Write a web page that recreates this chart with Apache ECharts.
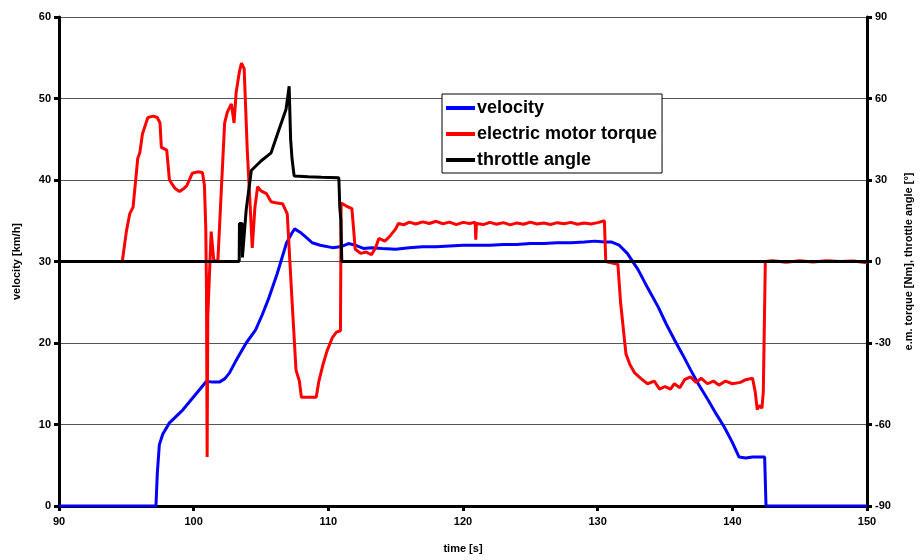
<!DOCTYPE html>
<html><head><meta charset="utf-8">
<script src="https://cdn.jsdelivr.net/npm/echarts@6/dist/echarts.min.js"></script>
<style>html,body{margin:0;padding:0;background:#fff}#c{width:922px;height:560px}</style>
</head><body><div id="c"></div>
<script>
var velT = [90, 97.2, 97.3, 97.45, 97.7, 98.2, 98.7, 99.2, 99.8, 100.4, 100.95, 101.4, 101.9, 102.3, 102.65, 103.2, 103.9, 104.6, 105.1, 105.6, 106.2, 106.9, 107.3, 107.5, 107.9, 108.4, 108.8, 109.4, 110.3, 110.9, 111.5, 112.0, 112.6, 113.2, 114, 115, 116, 117, 118, 119, 120, 121, 122, 123, 124, 125, 126, 127, 128, 129, 129.8, 130.5, 131, 131.6, 132.2, 133, 133.7, 134.5, 135.1, 135.7, 136.3, 136.9, 137.5, 138.2, 138.8, 139.4, 140, 140.5, 141, 141.5, 142, 142.4, 142.5, 150];
var velV = [0, 0, 4, 7.5, 8.8, 10.2, 11, 11.8, 13, 14.2, 15.3, 15.2, 15.2, 15.6, 16.3, 18, 20, 21.6, 23.5, 25.6, 28.5, 32.3, 33.5, 34.0, 33.6, 32.9, 32.3, 32.0, 31.7, 31.8, 32.2, 32.0, 31.6, 31.7, 31.6, 31.5, 31.7, 31.8, 31.8, 31.9, 32.0, 32.0, 32.0, 32.1, 32.1, 32.2, 32.2, 32.3, 32.3, 32.4, 32.5, 32.4, 32.4, 32.0, 31.0, 29.0, 26.8, 24.4, 22.3, 20.4, 18.6, 16.7, 14.9, 13.0, 11.3, 9.7, 7.8, 6.0, 5.9, 6.0, 6.0, 6.0, 0, 0];

var torT = [90, 94.7, 95.0, 95.25, 95.5, 95.85, 96.0, 96.2, 96.6, 97.0, 97.3, 97.5, 97.6, 98.0, 98.2, 98.6, 98.95, 99.3, 99.5, 99.9, 100.3, 100.65, 100.8, 100.9, 100.95, 101.0, 101.05, 101.3, 101.5, 101.8, 102.05, 102.3, 102.5, 102.8, 103.0, 103.15, 103.4, 103.55, 103.75, 103.98, 104.2, 104.35, 104.55, 104.75, 105.0, 105.4, 105.75, 106.2, 106.6, 106.95, 107.3, 107.6, 107.85, 108.0, 108.5, 109.1, 109.3, 109.6, 109.9, 110.3, 110.6, 110.9, 110.95, 111.3, 111.75, 112.0, 112.4, 112.8, 113.2, 113.5, 113.75, 114.2, 114.6, 115.0, 115.2, 115.6, 116.0, 116.5, 117, 117.5, 118, 118.5, 119, 119.5, 120, 120.5, 120.9, 120.95, 121.0, 121.5, 122, 122.5, 123, 123.5, 124, 124.5, 125, 125.5, 126, 126.5, 127, 127.5, 128, 128.5, 129, 129.5, 130, 130.5, 130.6, 131.0, 131.5, 131.7, 132.1, 132.4, 132.75, 133.2, 133.7, 134.2, 134.6, 135.0, 135.4, 135.7, 136.1, 136.45, 136.9, 137.3, 137.7, 138.15, 138.6, 139, 139.5, 140, 140.6, 141, 141.5, 141.7, 141.85, 142.0, 142.2, 142.3, 142.45, 143, 144, 145, 146, 147, 148, 149, 150];
var torV = [0, 0, 11, 17.5, 20, 38, 40, 47, 53, 53.5, 53, 51, 42, 41, 30, 27, 25.8, 27, 28, 32.5, 33, 32.8, 28, 12, -10, -72, -20, 11, 0, 0.5, 26, 51, 55, 58, 51, 62, 70, 73, 71, 41, 20, 5, 20, 27.5, 26, 25, 22, 21.5, 21.3, 17.5, -14, -40, -44, -50, -50, -50, -44, -38, -33, -28, -26, -25.5, 21.5, 20.5, 19.5, 4.5, 3, 3.5, 2.5, 5, 8.5, 7.5, 9.5, 12, 14, 13.5, 14.5, 13.8, 14.6, 14, 14.8, 13.9, 14.5, 13.6, 14.4, 14.0, 14.5, 8, 14, 13.6, 14.4, 13.7, 14.3, 13.5, 14.2, 13.7, 14.5, 13.8, 14.2, 13.6, 14.3, 13.9, 14.4, 13.7, 14.2, 13.8, 14.3, 15, 0, -0.5, -1, -15, -34, -38, -41, -43, -45, -44, -47, -46, -47, -45, -46.5, -43.5, -42.5, -44.5, -43, -45, -44, -45.5, -44, -45, -44.5, -43.5, -43, -48, -54.5, -53, -54, -48, 0, 0.3, -0.3, 0.3, -0.2, 0.3, 0, 0.2, -0.5];

var thrT = [90, 103.38, 103.4, 103.6, 103.62, 103.68, 103.9, 104.28, 105.0, 105.75, 106.3, 106.86, 107.09, 107.2, 107.3, 107.46, 108.5, 109.5, 110.78, 110.85, 110.93, 111.0, 150];
var thrV = [0, 0, 14, 14, 1.5, 1.5, 19, 33.5, 37, 40, 48, 56, 64.5, 45, 38, 31.5, 31.2, 31, 30.8, 20, 15, 0, 0];

var xTicks = [90, 100, 110, 120, 130, 140, 150];
var leftTicks = [0, 10, 20, 30, 40, 50, 60];
var rightTicks = [-90, -60, -30, 0, 30, 60, 90];

function pairs(t, v) { return t.map(function (x, i) { return [x, v[i]]; }); }

var lab = { color: '#000', fontWeight: 'bold', fontSize: 11, fontFamily: 'Arial, "Liberation Sans", sans-serif' };
var chart = echarts.init(document.getElementById('c'));
chart.setOption({
  animation: false,
  backgroundColor: '#fff',
  grid: { left: 59, right: 51, top: 17, bottom: 54, containLabel: false },
  legend: {
    left: 442, top: 94, orient: 'vertical',
    backgroundColor: '#fff', borderColor: '#000', borderWidth: 1,
    padding: [5, 5, 4, 4], itemGap: 8, itemWidth: 29, itemHeight: 4,
    icon: 'rect',
    textStyle: { color: '#000', fontWeight: 'bold', fontSize: 18, padding: [0, 0, 0, -3], fontFamily: 'Arial, "Liberation Sans", sans-serif' },
    data: ['velocity', 'electric motor torque', 'throttle angle']
  },
  xAxis: {
    type: 'value', min: xTicks[0], max: xTicks[xTicks.length - 1], interval: 10,
    name: 'time [s]', nameLocation: 'middle', nameGap: 37, nameTextStyle: lab,
    axisLine: { lineStyle: { color: '#000', width: 3 } },
    axisTick: { show: true, length: 5, lineStyle: { color: '#000', width: 3 } },
    axisLabel: Object.assign({ margin: 10 }, lab),
    splitLine: { show: false }
  },
  yAxis: [{
    type: 'value', min: leftTicks[0], max: leftTicks[leftTicks.length - 1], interval: 10,
    name: 'velocity [km/h]', nameLocation: 'middle', nameGap: 37, nameTextStyle: lab,
    axisLine: { show: true, lineStyle: { color: '#000', width: 3 } },
    axisTick: { show: true, length: 5, lineStyle: { color: '#000', width: 3 } },
    axisLabel: Object.assign({ margin: 8 }, lab),
    splitLine: { show: true, lineStyle: { color: '#555', width: 1 } }
  }, {
    type: 'value', min: rightTicks[0], max: rightTicks[rightTicks.length - 1], interval: 30, position: 'right',
    name: 'e.m. torque [Nm], throttle angle [°]', nameLocation: 'middle', nameGap: 36, nameRotate: 90, nameTextStyle: lab,
    axisLine: { show: true, lineStyle: { color: '#000', width: 3 } },
    axisTick: { show: true, inside: false, length: 5, lineStyle: { color: '#000', width: 3 } },
    axisLabel: Object.assign({ margin: 8 }, lab),
    splitLine: { show: false }
  }],
  series: [{
    name: 'velocity', type: 'line', yAxisIndex: 0, showSymbol: false, symbol: 'none',
    data: pairs(velT, velV), lineStyle: { color: '#0000ff', width: 3 }, itemStyle: { color: '#0000ff' }
  }, {
    name: 'electric motor torque', type: 'line', yAxisIndex: 1, showSymbol: false, symbol: 'none',
    data: pairs(torT, torV), lineStyle: { color: '#ff0000', width: 3 }, itemStyle: { color: '#ff0000' }
  }, {
    name: 'throttle angle', type: 'line', yAxisIndex: 1, showSymbol: false, symbol: 'none',
    data: pairs(thrT, thrV), lineStyle: { color: '#000000', width: 3 }, itemStyle: { color: '#000000' }
  }]
});
</script>
</body></html>
